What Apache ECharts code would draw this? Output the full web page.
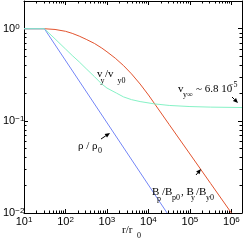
<!DOCTYPE html>
<html><head><meta charset="utf-8">
<script src="https://cdn.jsdelivr.net/npm/echarts@6/dist/echarts.min.js"></script>
<style>html,body{margin:0;padding:0;background:#fff}#c{width:249px;height:247px}</style>
</head><body><div id="c"></div>
<script>
// tick values
const xMajor = [10, 100, 1000, 10000, 100000, 1000000];
const xMinor = [20,30,40,50,60,70,80,90, 200,300,400,500,600,700,800,900,
  2000,3000,4000,5000,6000,7000,8000,9000, 20000,30000,40000,50000,60000,70000,80000,90000,
  200000,300000,400000,500000,600000,700000,800000,900000];
const yMajor = [0.01, 0.1, 1];
const yMinor = [0.02,0.03,0.04,0.05,0.06,0.07,0.08,0.09, 0.2,0.3,0.4,0.5,0.6,0.7,0.8,0.9];

// series: rho/rho0
const rhoR = [10, 31, 28200];
const rhoV = [1, 1, 0.01];
// series: Bp/Bp0, By/By0
const bR = [10, 31, 56, 100, 145, 214, 316, 500, 750, 1000, 1585, 2512, 3900, 6300, 10000, 31623, 100000, 316228, 1000000];
const bV = [1, 1, 0.982, 0.938, 0.891, 0.832, 0.767, 0.692, 0.617, 0.562, 0.479, 0.398, 0.324, 0.251, 0.191, 0.0912, 0.0437, 0.0209, 0.01];
// series: vy/vy0
const vR = [10, 31, 56, 100, 145, 214, 316, 500, 750, 1000, 1700, 2512, 3900, 6300, 13800, 31623, 100000, 316228, 1800000];
const vV = [1, 1, 0.776, 0.603, 0.513, 0.437, 0.368, 0.302, 0.251, 0.227, 0.200, 0.182, 0.170, 0.162, 0.153, 0.147, 0.143, 0.141, 0.1396];

const zip = (a, b) => a.map((v, i) => [v, b[i]]);
const fmt = v => { const e = Math.round(Math.log10(v)); return '{b|10}{s|' + (e < 0 ? '\u2212' + (-e) : e) + '}'; };
const rich = {
  b: {fontFamily: 'Liberation Sans', fontSize: 11, color: '#000', lineHeight: 12},
  s: {fontFamily: 'Liberation Sans', fontSize: 8, color: '#000', lineHeight: 8, verticalAlign: 'top'}
};
const axC = {color: '#000', width: 1};
function xa(pos, major) {
  return {type: 'log', logBase: 10, min: 10, max: 1800000, position: pos,
    axisLine: {show: major, onZero: false, lineStyle: axC},
    axisTick: {show: true, inside: true, length: major ? 4 : 2.5, customValues: major ? xMajor : xMinor, lineStyle: axC},
    axisLabel: (major && pos === 'bottom') ? {show: true, customValues: xMajor, formatter: fmt, rich: rich, margin: 3} : {show: false},
    splitLine: {show: false}, minorTick: {show: false}};
}
function ya(pos, major) {
  return {type: 'log', logBase: 10, min: 0.01, max: 2, position: pos,
    axisLine: {show: major, onZero: false, lineStyle: axC},
    axisTick: {show: true, inside: true, length: major ? 4 : 2.5, customValues: major ? yMajor : yMinor, lineStyle: axC},
    axisLabel: (major && pos === 'left') ? {show: true, customValues: yMajor, formatter: fmt, rich: rich, margin: 21, align: 'left'} : {show: false},
    splitLine: {show: false}, minorTick: {show: false}};
}
function T(text, x, y, size) {
  return {type: 'text', x: x, y: y, silent: true, z: 100,
    style: {text: text, font: size + 'px "Liberation Serif"', fill: '#000',
      textAlign: 'left', textVerticalAlign: 'middle', align: 'left', verticalAlign: 'middle'}};
}
function arrow(x1, y1, x2, y2) {
  const a = Math.atan2(y2 - y1, x2 - x1), L = 5, W = 2.2;
  const bx = x2 - L * Math.cos(a), by = y2 - L * Math.sin(a);
  const px = -Math.sin(a) * W, py = Math.cos(a) * W;
  return [
    {type: 'line', silent: true, z: 100, shape: {x1: x1, y1: y1, x2: bx, y2: by}, style: {stroke: '#000', lineWidth: 1}},
    {type: 'polygon', silent: true, z: 100, shape: {points: [[x2, y2], [bx + px, by + py], [bx - px, by - py]]}, style: {fill: '#000'}}
  ];
}
const graphics = [
  T('v', 97, 74, 11), T('y', 100.5, 81, 8), T('/v', 105, 74, 11), T('y0', 117.5, 81, 8),
  T('v', 178, 89, 11), T('y\u221e', 183, 95, 8), T('~ 6.8 10', 196, 89.5, 11), T('\u22125', 229, 84.5, 8),
  T('\u03c1 / \u03c1', 78, 146, 11), T('0', 98, 151, 8),
  T('B', 152, 192, 11), T('p', 157, 198.5, 8), T('/B', 162, 192, 11), T('p0', 172, 198, 8),
  T(', B', 181, 192, 11), T('y', 191, 198, 8), T('/B', 196, 192, 11), T('y0', 206, 198, 8),
  T('r/r', 122, 230, 11), T('0', 137, 236, 8)
].concat(arrow(232, 97, 238, 103), arrow(101, 139, 110, 133), arrow(196, 175, 201, 169));

const chart = echarts.init(document.getElementById('c'), null, {renderer: 'canvas'});
chart.setOption({
  animation: false,
  backgroundColor: '#fff',
  grid: {left: 21, right: 7, top: 1, bottom: 34, containLabel: false},
  xAxis: [xa('bottom', true), xa('bottom', false), xa('top', true), xa('top', false)],
  yAxis: [ya('left', true), ya('left', false), ya('right', true), ya('right', false)],
  series: [
    {type: 'line', data: zip(bR, bV), symbol: 'none', smooth: false, lineStyle: {color: '#e2532e', width: 1}, itemStyle: {color: '#e2532e'}},
    {type: 'line', data: zip(rhoR, rhoV), symbol: 'none', lineStyle: {color: '#7486f7', width: 1}, itemStyle: {color: '#7486f7'}},
    {type: 'line', data: zip(vR, vV), symbol: 'none', smooth: false, lineStyle: {color: '#86f2c6', width: 1}, itemStyle: {color: '#86f2c6'}}
  ],
  graphic: graphics
});
</script></body></html>
